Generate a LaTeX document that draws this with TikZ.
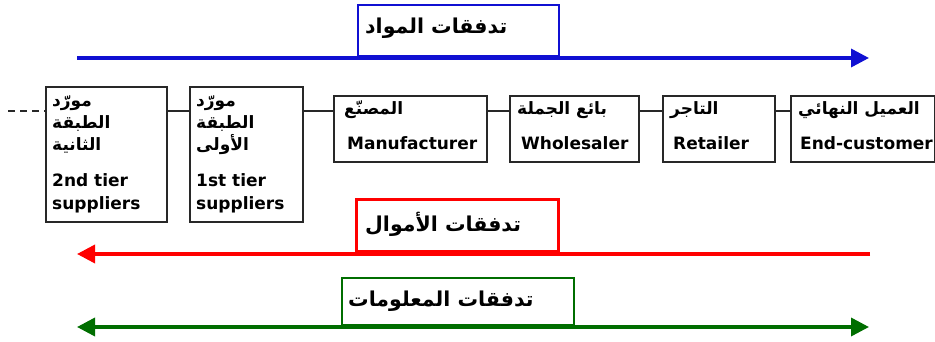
\documentclass[tikz,border=0pt]{standalone}
\usepackage{fontspec}
\setmainfont{DejaVu Sans}
\newfontfamily\arabicfont[Script=Arabic]{DejaVu Sans}
\TeXXeTstate=1
\usetikzlibrary{arrows.meta}

% right-to-left Arabic run
\newcommand{\artxt}[1]{\beginR #1\endR}

\definecolor{flowblue}{RGB}{16,16,210}
\definecolor{flowred}{RGB}{255,0,0}
\definecolor{flowgreen}{RGB}{0,110,0}
\definecolor{boxline}{RGB}{40,40,40}

\tikzset{flowtip/.tip={Triangle[length=18pt,width=18pt]}}

\begin{document}
\begin{tikzpicture}[x=1pt,y=-1pt,
  chainbox/.style={draw=boxline, line width=1.8pt, anchor=north west, inner sep=0pt},
  link/.style={draw=boxline, line width=1.6pt},
  entxt/.style={anchor=base west, inner sep=0pt, font=\bfseries\fontsize{17}{19}\selectfont},
  artx/.style={anchor=base west, inner sep=0pt, font=\arabicfont\bfseries\fontsize{17}{19}\selectfont},
  flowbox/.style={anchor=south west, inner sep=0pt, fill=white},
  flowtxt/.style={anchor=base west, inner sep=0pt, font=\arabicfont\bfseries\fontsize{20.5}{23}\selectfont},
  flow/.style={line width=3.5pt}
]
\useasboundingbox (0,0) rectangle (935,342);

% ---- supply chain members ----
\node[chainbox, minimum width=121pt, minimum height=135pt] (b1) at (45,86) {};
\node[chainbox, minimum width=113pt, minimum height=135pt] (b2) at (189,86) {};
\node[chainbox, minimum width=153pt, minimum height=66pt] (b3) at (333,95) {};
\node[chainbox, minimum width=129pt, minimum height=66pt] (b4) at (509,95) {};
\node[chainbox, minimum width=112pt, minimum height=66pt] (b5) at (662,95) {};
\node[chainbox, minimum width=144pt, minimum height=66pt] (b6) at (790,95) {};

\node[artx] (t1a) at (52,107) {\artxt{مورّد}};
\node[artx] (t1b) at (52,129) {\artxt{الطبقة}};
\node[artx] (t1c) at (52,151) {\artxt{الثانية}};
\node[entxt] (t1d) at (52,187) {2nd tier};
\node[entxt] (t1e) at (52,209) {suppliers};

\node[artx] (t2a) at (196,107) {\artxt{مورّد}};
\node[artx] (t2b) at (196,129) {\artxt{الطبقة}};
\node[artx] (t2c) at (196,151) {\artxt{الأولى}};
\node[entxt] (t2d) at (196,187) {1st tier};
\node[entxt] (t2e) at (196,209) {suppliers};

\node[artx] (t3a) at (344,115) {\artxt{المصنّع}};
\node[entxt] (t3b) at (347,150) {Manufacturer};
\node[artx] (t4a) at (517,115) {\artxt{بائع الجملة}};
\node[entxt] (t4b) at (521,150) {Wholesaler};
\node[artx] (t5a) at (670,115) {\artxt{التاجر}};
\node[entxt] (t5b) at (673,150) {Retailer};
\node[artx] (t6a) at (798,115) {\artxt{العميل  النهائي}};
\node[entxt] (t6b) at (800,150) {End-customer};

% ---- links between members ----
\coordinate (ly) at (0,111);
\coordinate (lead) at (8,111);
\draw[link, dash pattern=on 7pt off 5pt] (lead) -- (b1.west |- ly);
\draw[link] (b1.east |- ly) -- (b2.west |- ly);
\draw[link] (b2.east |- ly) -- (b3.west |- ly);
\draw[link] (b3.east |- ly) -- (b4.west |- ly);
\draw[link] (b4.east |- ly) -- (b5.west |- ly);
\draw[link] (b5.east |- ly) -- (b6.west |- ly);

% ---- material flow ----
\coordinate (ms) at (77,58);
\coordinate (me) at (869,58);
\node[flowbox, draw=flowblue, line width=1.6pt, minimum width=201pt, minimum height=51pt] (mbox) at (357,57) {};
\node[flowtxt] (mtxt) at (365,34) {\artxt{تدفقات  المواد}};
\draw[flow, flowblue, -flowtip] (ms) -- (me);

% ---- financial flow ----
\coordinate (fs) at (870,254);
\coordinate (fe) at (77,254);
\node[flowbox, draw=flowred, line width=2.6pt, minimum width=202pt, minimum height=52pt] (fbox) at (355,253) {};
\node[flowtxt] (ftxt) at (365,231) {\artxt{تدفقات  الأموال}};
\draw[flow, flowred, -flowtip] (fs) -- (fe);

% ---- information flow ----
\coordinate (is) at (77,327);
\coordinate (ie) at (869,327);
\node[flowbox, draw=flowgreen, line width=1.6pt, minimum width=232pt, minimum height=47pt] (ibox) at (341,326) {};
\node[flowtxt] (itxt) at (348,306) {\artxt{تدفقات  المعلومات}};
\draw[flow, flowgreen, flowtip-flowtip] (is) -- (ie);
\end{tikzpicture}
\end{document}
